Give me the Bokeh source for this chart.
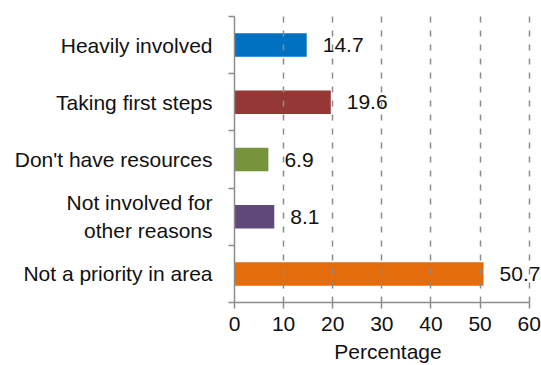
from bokeh.plotting import figure
from bokeh.models import ColumnDataSource, LabelSet, Range1d, FixedTicker
from bokeh.core.properties import value
from bokeh.embed import file_html
from bokeh.resources import INLINE

categories = ["Heavily involved", "Taking first steps", "Don't have resources",
              "Not involved for\nother reasons", "Not a priority in area"]
values = [14.7, 19.6, 6.9, 8.1, 50.7]
colors = ["#0070C0", "#953735", "#77933C", "#604A7B", "#E46C0A"]
x_ticks = [0, 10, 20, 30, 40, 50, 60]
x_label = "Percentage"

n = len(categories)
ypos = [n - i - 0.5 for i in range(n)]
value_text = [f"{v:.1f}" for v in values]
src = ColumnDataSource(dict(y=ypos, v=values, c=colors, vt=value_text))

FONT = "Liberation Sans"
TXT = "#111111"
GRAY = "#8c8c8c"

p = figure(width=541, height=365, output_backend="svg", toolbar_location=None,
           x_range=Range1d(0, 62.5), y_range=Range1d(0, n),
           min_border_left=234, min_border_right=0, min_border_top=16,
           min_border_bottom=10)
p.outline_line_color = None
p.background_fill_color = "white"

p.hbar(y="y", right="v", left=0, height=0.41, fill_color="c", line_color=None, source=src)

# x axis
p.xaxis.bounds = (x_ticks[0], x_ticks[-1])
p.xaxis.ticker = FixedTicker(ticks=x_ticks)
p.xaxis.minor_tick_line_color = None
p.xaxis.major_tick_in = 0
p.xaxis.major_tick_out = 6
p.xaxis.axis_line_color = GRAY
p.xaxis.axis_line_width = 1.5
p.xaxis.major_tick_line_color = GRAY
p.xaxis.major_tick_line_width = 1.5
p.xaxis.major_label_text_font = FONT
p.xaxis.major_label_text_font_size = "21px"
p.xaxis.major_label_text_color = TXT
p.xaxis.major_label_standoff = 8
p.xaxis.axis_label = x_label
p.xaxis.axis_label_text_font = FONT
p.xaxis.axis_label_text_font_size = "21px"
p.xaxis.axis_label_text_font_style = "normal"
p.xaxis.axis_label_text_color = TXT
p.xaxis.axis_label_standoff = 6

# y axis: category labels at band centres, tick marks at band edges
p.yaxis.ticker = FixedTicker(ticks=ypos, minor_ticks=list(range(n + 1)))
p.yaxis.major_label_overrides = {y: c for y, c in zip(ypos, categories)}
p.yaxis.major_tick_line_color = None
p.yaxis.major_tick_in = 0
p.yaxis.major_tick_out = 0
p.yaxis.major_label_standoff = 16
p.yaxis.major_label_text_font = FONT
p.yaxis.major_label_text_font_size = "21px"
p.yaxis.major_label_text_color = TXT
p.yaxis.minor_tick_in = 0
p.yaxis.minor_tick_out = 6
p.yaxis.minor_tick_line_color = GRAY
p.yaxis.minor_tick_line_width = 1.5
p.yaxis.axis_line_color = GRAY
p.yaxis.axis_line_width = 1.5

p.ygrid.grid_line_color = None
p.xgrid.grid_line_color = GRAY
p.xgrid.grid_line_width = 1.5
p.xgrid.grid_line_dash = "6 8"
p.xgrid.level = "overlay"

val_labels = LabelSet(x="v", y="y", text="vt", source=src, x_offset=16,
                      text_align="left", text_baseline="middle",
                      text_font=value(FONT), text_font_size="21px", text_color=TXT)
p.add_layout(val_labels)

open("out.html", "w").write(file_html(p, INLINE))
